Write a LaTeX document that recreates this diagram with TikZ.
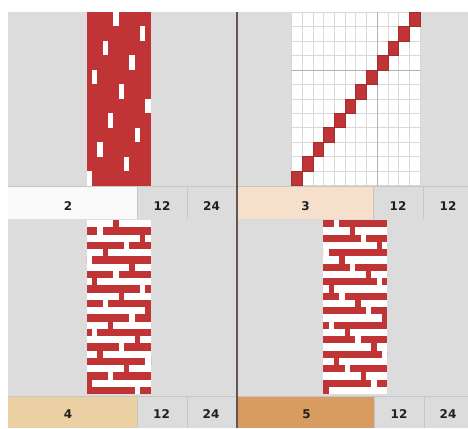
\documentclass[tikz,border=0pt]{standalone}
\usepackage{fontspec}
\setsansfont{DejaVu Sans}
\usepackage{tikz}
\usetikzlibrary{calc}
\definecolor{panel}{RGB}{220,220,220}
\definecolor{sepline}{RGB}{198,198,198}
\definecolor{weave}{RGB}{192,52,54}
\definecolor{peach}{RGB}{246,224,204}
\definecolor{tan}{RGB}{235,208,164}
\definecolor{ochre}{RGB}{216,155,96}
\definecolor{divider}{RGB}{100,84,84}

\begin{document}
\begin{tikzpicture}[x=1pt,y=-1pt,font=\sffamily\bfseries\fontsize{12}{14}\selectfont,
  cell/.style={text=black!88,inner sep=0pt},
  gridline/.style={draw=black!15,line width=0.5pt},
  gridmajor/.style={draw=black!30,line width=0.6pt}]
  \useasboundingbox (0,0) rectangle (468,428);
  \fill[white] (0,0) rectangle (468,428);
  \fill[panel] (8,12) rectangle (468,428);
  % label rows
  \fill[white!98!black] (8,186) rectangle (137,219);
  \fill[peach] (238,186) rectangle (373,219);
  \fill[tan] (8,396) rectangle (137,428);
  \fill[ochre] (238,396) rectangle (374,428);
  \draw[sepline] (8,186)--(468,186) (8,396)--(468,396);
  \draw[sepline] (137,186)--(137,219) (187,186)--(187,219) (373,186)--(373,219) (423,186)--(423,219);
  \draw[sepline] (137,396)--(137,428) (187,396)--(187,428) (374,396)--(374,428) (424,396)--(424,428);
  \draw[divider,line width=1.3pt] (237,12)--(237,428);
  \node[cell] (idA) at (68,206) {2};
  \node[cell] (colA) at (162,206) {12};
  \node[cell] (rowA) at (211.5,206) {24};
  \node[cell] (idB) at (305.5,206) {3};
  \node[cell] (colB) at (398,206) {12};
  \node[cell] (rowB) at (448,206) {12};
  \node[cell] (idC) at (68,414) {4};
  \node[cell] (colC) at (161.5,414) {12};
  \node[cell] (rowC) at (211,414) {24};
  \node[cell] (idD) at (306.5,414) {5};
  \node[cell] (colD) at (399,414) {12};
  \node[cell] (rowD) at (448,414) {24};
  % pattern 2: dashes
  \fill[weave] (86.7,12) rectangle (150.7,185.5);
  \foreach \k in {0,...,11}{
    \pgfmathtruncatemacro\c{mod(5+5*\k,12)}
    \fill[white] (86.7+5.333*\c,12+14.46*\k) rectangle ++(5.333,14.46);
  }
  % pattern 3: twill on grid
  \fill[white] (291.3,12) rectangle (420,185.5);
  \foreach \i in {0,...,12}{
    \draw[gridline] (291.3+10.725*\i,12) -- ++(0,173.5);
    \draw[gridline] (291.3,12+14.46*\i) -- ++(128.7,0);
  }
  \draw[gridmajor] (291.3+10.725*8,12) -- ++(0,173.5);
  \draw[gridmajor] (291.3,12+14.46*4) -- ++(128.7,0);
  \foreach \r in {0,...,11}
    \fill[weave,draw=weave!85!black,line width=0.4pt] (291.3+10.725*11-10.725*\r,12+14.46*\r) rectangle ++(10.725,14.46);
  % pattern 4 and 5: bricks
  \fill[white] (86.7,220) rectangle (150.7,394);
  \fill[white] (323.3,220) rectangle (387.3,394);
  \foreach \j in {0,...,11}{
    \pgfmathtruncatemacro\s{mod(5+5*\j,12)}
    \pgfmathtruncatemacro\g{mod(2+5*\j,12)}
    \fill[weave] (86.7+5.333*\s,220+14.5*\j) rectangle ++(5.333,7.25);
    \fill[weave] (86.7,227.25+14.5*\j) rectangle ++(5.333*\g,7.25);
    \fill[weave] (92.033+5.333*\g,227.25+14.5*\j) rectangle (150.7,234.5+14.5*\j);
    \fill[weave] (323.3+5.333*\s,227.25+14.5*\j) rectangle ++(5.333,7.25);
    \fill[weave] (323.3,220+14.5*\j) rectangle ++(5.333*\g,7.25);
    \fill[weave] (328.633+5.333*\g,220+14.5*\j) rectangle (387.3,227.25+14.5*\j);
  }
\end{tikzpicture}
\end{document}
